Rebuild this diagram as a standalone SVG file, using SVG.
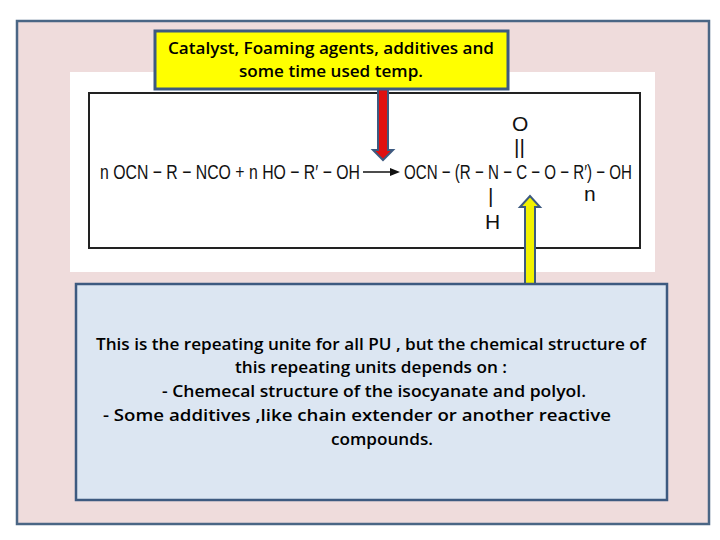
<svg xmlns="http://www.w3.org/2000/svg" width="720" height="540" viewBox="0 0 720 540">
<style>
.c{font-family:"Liberation Sans Narrow","Liberation Sans",sans-serif;font-size:21px;fill:#111}
.t{font-family:"Open Sans","Liberation Sans",sans-serif;font-size:15.5px;font-weight:600;fill:#000;text-anchor:middle}
</style>
<rect x="17" y="21" width="692" height="503" fill="#efdcdc" stroke="#4a6685" stroke-width="2.5"/>
<rect x="70" y="72" width="585" height="200" fill="#fff"/>
<g id="equation">
<rect x="89" y="93" width="551" height="155" fill="#fff" stroke="#222" stroke-width="2"/>
<text class="c" x="100" y="179" textLength="260" lengthAdjust="spacingAndGlyphs">n OCN − R − NCO  +  n HO − R′ − OH</text>
<line x1="363" y1="172" x2="392" y2="172" stroke="#111" stroke-width="1.5"/>
<polygon points="400,172 390,168 390,176" fill="#111"/>
<text class="c" x="404" y="179" textLength="228" lengthAdjust="spacingAndGlyphs">OCN − (R − N − C − O − R′) − OH</text>
<text class="c" x="512" y="131">O</text>
<text class="c" x="514" y="154" font-size="15">||</text>
<text class="c" x="488" y="203" font-size="15">|</text>
<text class="c" x="485" y="229">H</text>
<text class="c" x="584" y="201">n</text>
</g>
<g id="connectors">
<polygon points="378,89 388,89 388,150 393,150 383,160 373,150 378,150" fill="#e01010" stroke="#3d5a80" stroke-width="2"/>
<polygon points="525,285 535,285 535,207 540,207 530,196 520,207 525,207" fill="#f2f200" stroke="#3d5a80" stroke-width="2"/>
</g>
<g id="top">
<rect x="155" y="31" width="353" height="58" fill="#ffff00" stroke="#3d5a80" stroke-width="3"/>
<text class="t" x="331" y="54" textLength="326" lengthAdjust="spacingAndGlyphs">Catalyst, Foaming agents, additives and</text>
<text class="t" x="331" y="77" textLength="184" lengthAdjust="spacingAndGlyphs">some time used temp.</text>
</g>
<g id="bottom">
<rect x="76" y="284" width="591" height="216" fill="#dce6f2" stroke="#3d5a80" stroke-width="2.5"/>
<text class="t" x="371" y="350" textLength="550" lengthAdjust="spacingAndGlyphs">This is the repeating unite for all PU , but the chemical structure of</text>
<text class="t" x="371" y="373" textLength="272" lengthAdjust="spacingAndGlyphs">this repeating units depends on :</text>
<text class="t" x="374" y="397" textLength="424" lengthAdjust="spacingAndGlyphs">-   Chemecal structure of the isocyanate and polyol.</text>
<text class="t" x="357" y="421" textLength="508" lengthAdjust="spacingAndGlyphs">-   Some additives ,like chain extender or another reactive</text>
<text class="t" x="382" y="445" textLength="102" lengthAdjust="spacingAndGlyphs">compounds.</text>
</g>
</svg>
